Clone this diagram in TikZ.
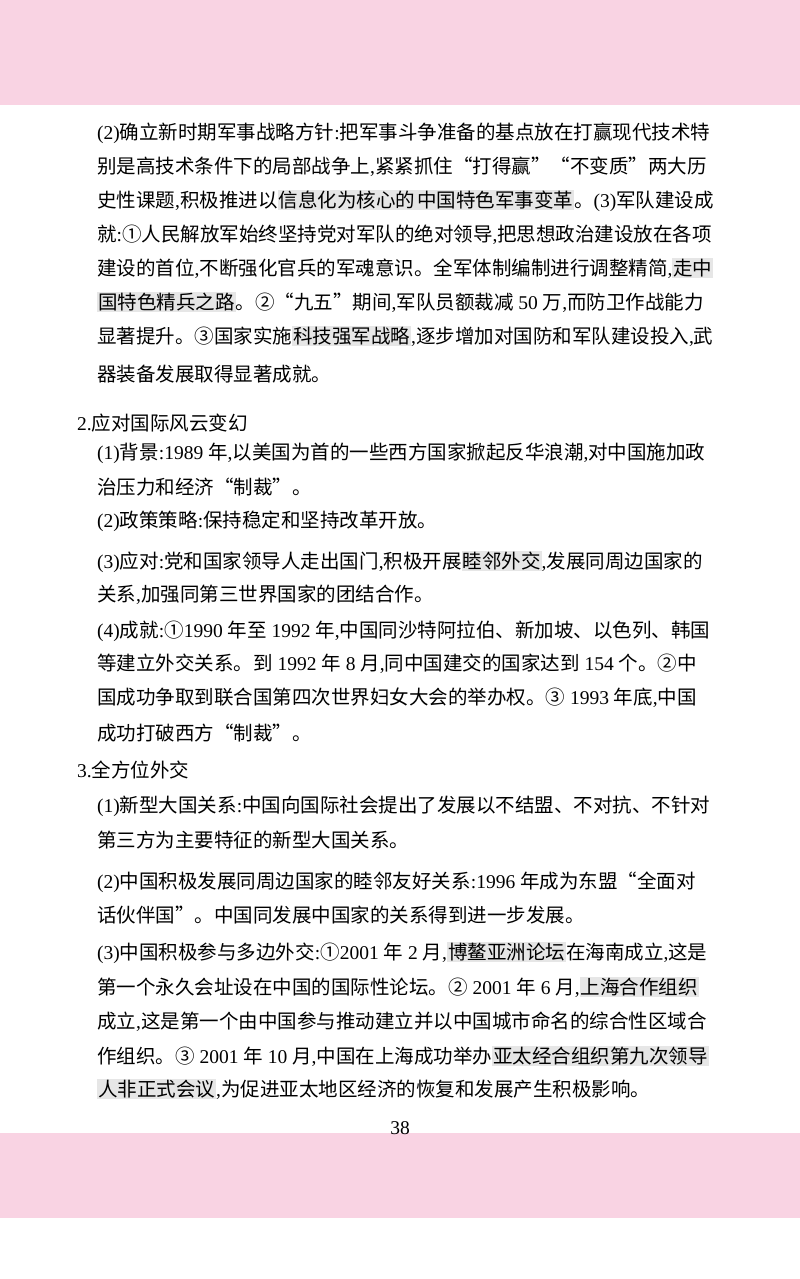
\documentclass[tikz,border=0pt]{standalone}
\usepackage{fontspec}
\setmainfont{Noto Sans CJK SC}
\newfontfamily\latn{Liberation Serif}
\definecolor{pinkband}{HTML}{F9D3E3}
\definecolor{hlgray}{HTML}{E6E6E6}
\newcommand{\hlx}[1]{{\setlength{\fboxsep}{1pt}\colorbox{hlgray}{#1}}}
\newcommand{\n}[1]{{\latn #1}}
\tikzset{ln/.style={anchor=west,inner sep=0pt,font=\fontsize{19.5}{20}\selectfont}}
\begin{document}
\begin{tikzpicture}[x=1pt,y=-1pt]
\useasboundingbox (0,0) rectangle (800,1279);
\fill[pinkband] (0,0) rectangle (800,105);
\fill[pinkband] (0,1133) rectangle (800,1218);
\node[ln] (l1) at (97,133) {\n{(2)}确立新时期军事战略方针\n{:}把军事斗争准备的基点放在打赢现代技术特};
\node[ln] (l2) at (97,167) {别是高技术条件下的局部战争上\n{,}紧紧抓住“打得赢”“不变质”两大历};
\node[ln] (l3) at (97,201) {史性课题\n{,}积极推进以\hlx{信息化为核心的}\hlx{中国特色军事变革}。\n{(3)}军队建设成};
\node[ln] (l4) at (97,235) {就\n{:}①人民解放军始终坚持党对军队的绝对领导\n{,}把思想政治建设放在各项};
\node[ln] (l5) at (97,268) {建设的首位\n{,}不断强化官兵的军魂意识。全军体制编制进行调整精简\n{,}\hlx{走中}};
\node[ln] (l6) at (97,302) {\hlx{国特色精兵之路}。②“九五”期间\n{,}军队员额裁减\n{ 50 }万\n{,}而防卫作战能力};
\node[ln] (l7) at (97,336) {显著提升。③国家实施\hlx{科技强军战略}\n{,}逐步增加对国防和军队建设投入\n{,}武};
\node[ln] (l8) at (97,374) {器装备发展取得显著成就。};
\node[ln] (h2) at (77,423) {\n{2.}应对国际风云变幻};
\node[ln] (a1) at (97,453) {\n{(1)}背景\n{:1989 }年\n{,}以美国为首的一些西方国家掀起反华浪潮\n{,}对中国施加政};
\node[ln] (a2) at (97,487) {治压力和经济“制裁”。};
\node[ln] (a3) at (97,521) {\n{(2)}政策策略\n{:}保持稳定和坚持改革开放。};
\node[ln] (a4) at (97,562) {\n{(3)}应对\n{:}党和国家领导人走出国门\n{,}积极开展\hlx{睦邻外交}\n{,}发展同周边国家的};
\node[ln] (a5) at (97,595) {关系\n{,}加强同第三世界国家的团结合作。};
\node[ln] (a6) at (97,631) {\n{(4)}成就\n{:}①\n{1990 }年至\n{ 1992 }年\n{,}中国同沙特阿拉伯、新加坡、以色列、韩国};
\node[ln] (a7) at (97,664) {等建立外交关系。到\n{ 1992 }年\n{ 8 }月\n{,}同中国建交的国家达到\n{ 154 }个。②中};
\node[ln] (a8) at (97,698) {国成功争取到联合国第四次世界妇女大会的举办权。③\n{ 1993 }年底\n{,}中国};
\node[ln] (a9) at (97,733) {成功打破西方“制裁”。};
\node[ln] (h3) at (77,770) {\n{3.}全方位外交};
\node[ln] (b1) at (97,806) {\n{(1)}新型大国关系\n{:}中国向国际社会提出了发展以不结盟、不对抗、不针对};
\node[ln] (b2) at (97,840) {第三方为主要特征的新型大国关系。};
\node[ln] (b3) at (97,882) {\n{(2)}中国积极发展同周边国家的睦邻友好关系\n{:1996 }年成为东盟“全面对};
\node[ln] (b4) at (97,915) {话伙伴国”。中国同发展中国家的关系得到进一步发展。};
\node[ln] (b5) at (97,953) {\n{(3)}中国积极参与多边外交\n{:}①\n{2001 }年\n{ 2 }月\n{,}\hlx{博鳌亚洲论坛}在海南成立\n{,}这是};
\node[ln] (b6) at (97,987) {第一个永久会址设在中国的国际性论坛。②\n{ 2001 }年\n{ 6 }月\n{,}\hlx{上海合作组织}};
\node[ln] (b7) at (97,1022) {成立\n{,}这是第一个由中国参与推动建立并以中国城市命名的综合性区域合};
\node[ln] (b8) at (97,1056) {作组织。③\n{ 2001 }年\n{ 10 }月\n{,}中国在上海成功举办\hlx{亚太经合组织第九次领导}};
\node[ln] (b9) at (97,1089) {\hlx{人非正式会议}\n{,}为促进亚太地区经济的恢复和发展产生积极影响。};
\node[anchor=center,inner sep=0pt,font=\latn\fontsize{19.5}{20}\selectfont] (pg) at (400,1128) {38};
\end{tikzpicture}
\end{document}
